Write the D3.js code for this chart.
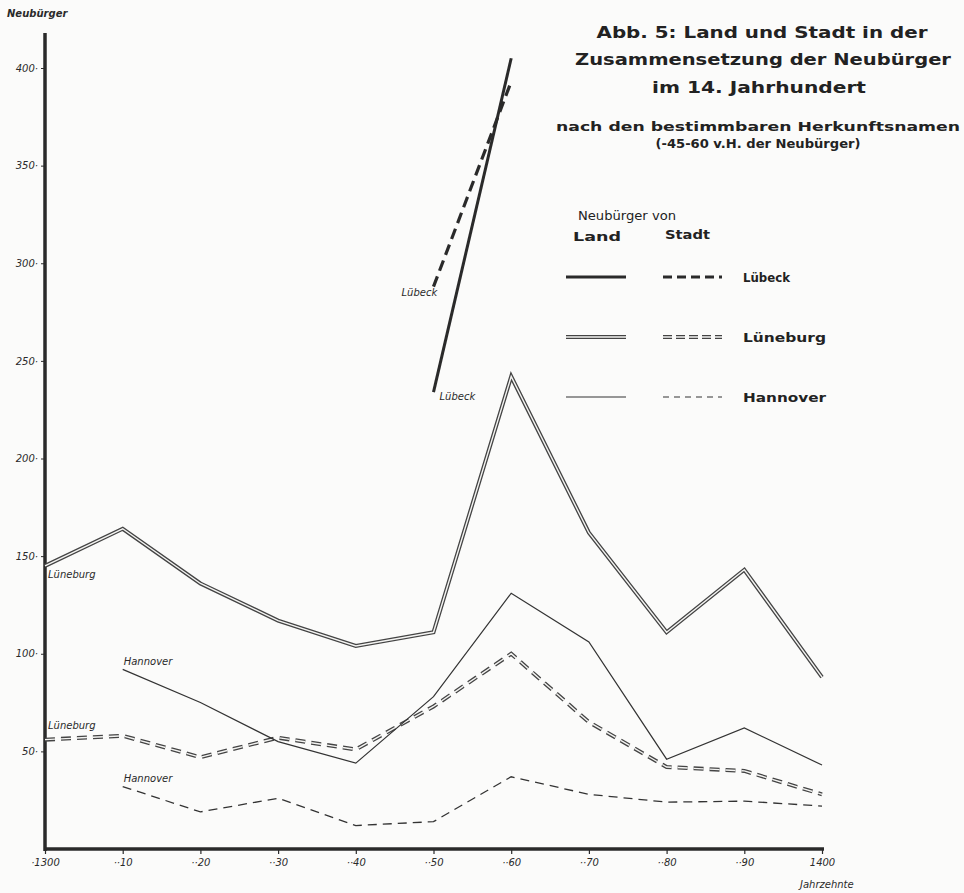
<!DOCTYPE html>
<html><head><meta charset="utf-8">
<script src="https://cdn.jsdelivr.net/npm/d3@7"></script>
<style>body{margin:0;background:#fbfbfa}svg{display:block}</style>
</head><body>
<script>
const decades = [1300,1310,1320,1330,1340,1350,1360,1370,1380,1390,1400];
const tickLabels = ["·1300","··10","··20","··30","··40","··50","··60","··70","··80","··90","1400"];
const yTicks = [50,100,150,200,250,300,350,400];
const luebeckLand = [null,null,null,null,null,234,405,null,null,null,null];
const luebeckStadt = [null,null,null,null,null,288,393,null,null,null,null];
const lueneburgLand = [145,164,136,117,104,111,242,162,111,143,88];
const lueneburgStadt = [56,58,47,57,51,73,100,65,42,40,28];
const hannoverLand = [null,92,75,55,44,78,131,106,46,62,43];
const hannoverStadt = [null,32,19,26,12,14,37,28,24,24.5,22];

const W=964,H=893;
const svg=d3.select("body").append("svg").attr("width",W).attr("height",H);
const x=d3.scaleLinear().domain([1300,1400]).range([45,822]);
const y=d3.scaleLinear().domain([0,400]).range([849,68]);
const ink="#2a2a2a";

// axes
const xAxis=d3.axisBottom(x).tickValues(decades).tickSize(5).tickFormat((d,i)=>tickLabels[i]);
const gx=svg.append("g").attr("transform","translate(0,849)").call(xAxis);
gx.select(".domain").attr("stroke",ink).attr("stroke-width",3.5).attr("d","M45,0H824");
gx.selectAll(".tick line").attr("stroke",ink).attr("stroke-width",1.2);
gx.selectAll(".tick text").attr("font-family","DejaVu Sans").attr("font-style","italic")
  .attr("font-size",10).attr("fill",ink).attr("dy","0.9em");
const yAxis=d3.axisLeft(y).tickValues(yTicks).tickSize(4).tickFormat(d=>d+"·");
const gy=svg.append("g").attr("transform","translate(45,0)").call(yAxis);
gy.select(".domain").attr("stroke",ink).attr("stroke-width",3.5).attr("d","M0,33V851");
gy.selectAll(".tick line").attr("stroke",ink);
gy.selectAll(".tick text").attr("font-family","DejaVu Sans").attr("font-style","italic")
  .attr("font-size",10).attr("fill",ink);
svg.append("text").attr("x",7).attr("y",17).text("Neubürger").attr("font-family","DejaVu Sans")
  .attr("font-style","italic").attr("font-size",10).attr("font-weight","bold").attr("fill",ink);
svg.append("text").attr("x",800).attr("y",888).text("Jahrzehnte").attr("font-family","DejaVu Sans")
  .attr("font-style","italic").attr("font-size",10).attr("fill",ink);

const line=d3.line().defined(d=>d[1]!==null).x(d=>x(d[0])).y(d=>y(d[1])).curve(d3.curveLinear);
function pts(arr){return decades.map((d,i)=>[d,arr[i]]);}

function drawSeries(arr,style){
  const p=line(pts(arr));
  if(style==="thick"){
    svg.append("path").attr("d",p).attr("fill","none").attr("stroke",ink).attr("stroke-width",3);
  } else if(style==="thickdash"){
    svg.append("path").attr("d",p).attr("fill","none").attr("stroke",ink).attr("stroke-width",3.2).attr("stroke-dasharray","11,6");
  } else if(style==="double"){
    svg.append("path").attr("d",p).attr("fill","none").attr("stroke","#444").attr("stroke-width",4).attr("stroke-linejoin","miter");
    svg.append("path").attr("d",p).attr("fill","none").attr("stroke","#f4f4f2").attr("stroke-width",1.4);
  } else if(style==="doubledash"){
    svg.append("path").attr("d",p).attr("fill","none").attr("stroke","#444").attr("stroke-width",4).attr("stroke-dasharray","10,6");
    svg.append("path").attr("d",p).attr("fill","none").attr("stroke","#f4f4f2").attr("stroke-width",1.4).attr("stroke-dasharray","10,6");
  } else if(style==="thin"){
    svg.append("path").attr("d",p).attr("fill","none").attr("stroke","#333").attr("stroke-width",1.2);
  } else if(style==="thindash"){
    svg.append("path").attr("d",p).attr("fill","none").attr("stroke","#333").attr("stroke-width",1.3).attr("stroke-dasharray","9,6");
  }
}
drawSeries(lueneburgLand,"double");
drawSeries(lueneburgStadt,"doubledash");
drawSeries(hannoverLand,"thin");
drawSeries(hannoverStadt,"thindash");
drawSeries(luebeckLand,"thick");
drawSeries(luebeckStadt,"thickdash");

// inline labels
function lab(t,xx,yy){svg.append("text").attr("x",xx).attr("y",yy).text(t).attr("font-family","DejaVu Sans")
  .attr("font-style","italic").attr("font-size",10).attr("fill",ink);}
lab("Lübeck",x(1350)-32,y(luebeckStadt[5])+9);
lab("Lübeck",x(1350)+6,y(luebeckLand[5])+8);
lab("Lüneburg",x(1300)+3,y(lueneburgLand[0])+12);
lab("Hannover",x(1310)+1,y(hannoverLand[1])-4);
lab("Lüneburg",x(1300)+3,y(lueneburgStadt[0])-11);
lab("Hannover",x(1310)+1,y(hannoverStadt[1])-5);

// title
const tf="DejaVu Sans";
function ttl(t,cx,yy,len,fs){
  svg.append("text").attr("x",cx-len/2).attr("y",yy).text(t).attr("textLength",len).attr("lengthAdjust","spacingAndGlyphs")
    .attr("font-family",tf).attr("font-weight","bold").attr("font-size",fs).attr("fill","#222");
}
ttl("Abb. 5: Land und Stadt in der",762,38,331,16.5);
ttl("Zusammensetzung der Neubürger",763,65,376,16.5);
ttl("im 14. Jahrhundert",759,93,214,16.5);
ttl("nach den bestimmbaren Herkunftsnamen",758,131,404,12.5);
ttl("(-45-60 v.H. der Neubürger)",758,148,205,12.5);

// legend
function lt(t,xx,yy,len,bold){
  svg.append("text").attr("x",xx).attr("y",yy).text(t).attr("textLength",len).attr("lengthAdjust","spacingAndGlyphs")
    .attr("font-family",tf).attr("font-weight",bold?"bold":"normal").attr("font-size",13).attr("fill","#222");
}
lt("Neubürger von",578,220,98,false);
lt("Land",573,241,48,true);
lt("Stadt",665,239,45,true);
const legendItems=[["Lübeck","thick","thickdash",277,47],["Lüneburg","double","doubledash",337,83],["Hannover","thin","thindash",397,83]];
const styleMap={
  thick:[{s:ink,w:3}],
  thickdash:[{s:ink,w:3.2,d:"9,5"}],
  double:[{s:"#444",w:4},{s:"#f4f4f2",w:1.4}],
  doubledash:[{s:"#444",w:4,d:"9,4"},{s:"#f4f4f2",w:1.4,d:"9,4"}],
  thin:[{s:"#333",w:1.2}],
  thindash:[{s:"#333",w:1.2,d:"6,5"}]
};
legendItems.forEach(it=>{
  [[it[1],566,626],[it[2],663,722]].forEach(seg=>{
    styleMap[seg[0]].forEach(st=>{
      const l=svg.append("line").attr("x1",seg[1]).attr("x2",seg[2]).attr("y1",it[3]).attr("y2",it[3])
        .attr("stroke",st.s).attr("stroke-width",st.w);
      if(st.d)l.attr("stroke-dasharray",st.d);
    });
  });
  lt(it[0],743,it[3]+5,it[4],true);
});
</script>
</body></html>
